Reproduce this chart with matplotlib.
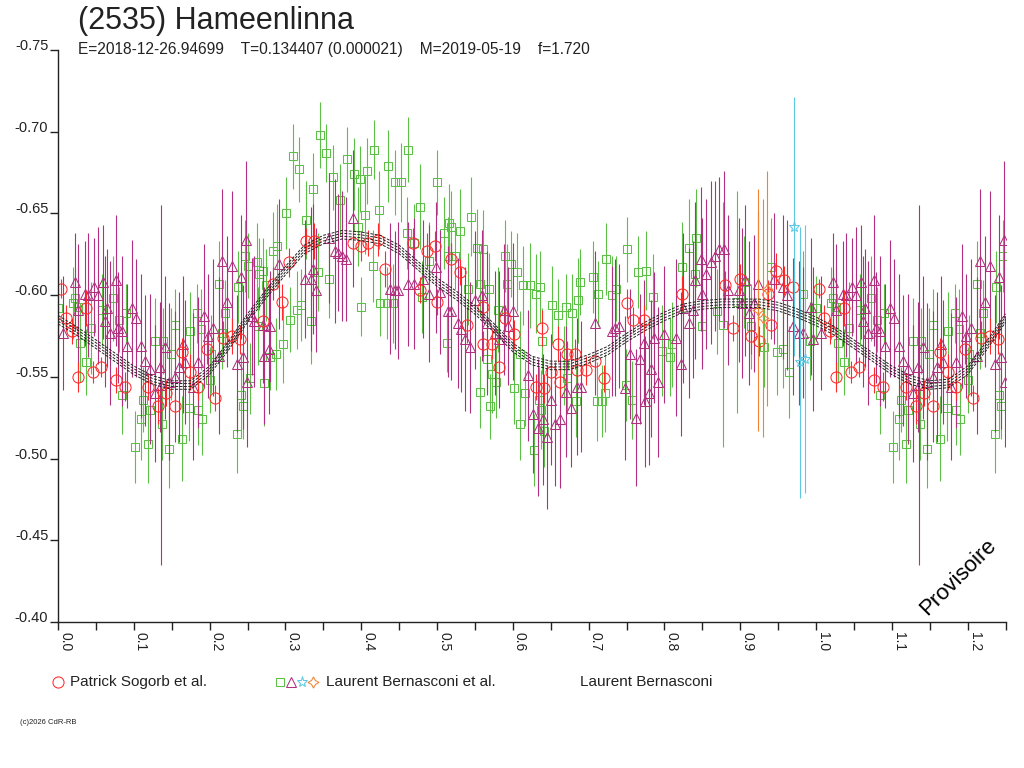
import numpy as np
import matplotlib
matplotlib.use("Agg")
import matplotlib.pyplot as plt
from matplotlib.ticker import MultipleLocator, FormatStrFormatter

plt.rcParams["font.family"] = ["Liberation Sans", "DejaVu Sans"]

TITLE = "(2535) Hameenlinna"
SUBTITLE = "E=2018-12-26.94699    T=0.134407 (0.000021)    M=2019-05-19    f=1.720"
LEGEND_1 = "Patrick Sogorb et al."
LEGEND_2 = "Laurent Bernasconi et al."
LEGEND_3 = "Laurent Bernasconi"
COPYRIGHT = "(c)2026 CdR-RB"
STAMP = "Provisoire"

PHASE_MAX = 1.25

# Patrick Sogorb et al. (red circles)
sog_phase = [0.004, 0.010, 0.019, 0.027, 0.037, 0.046, 0.057, 0.077, 0.088, 0.119,
             0.132, 0.143, 0.154, 0.164, 0.174, 0.185, 0.196, 0.207, 0.218, 0.229,
             0.240, 0.271, 0.283, 0.295, 0.305, 0.327, 0.338, 0.389, 0.400, 0.409,
             0.422, 0.432, 0.468, 0.477, 0.487, 0.497, 0.500, 0.519, 0.530, 0.540,
             0.561, 0.561, 0.573, 0.582, 0.590, 0.602, 0.630, 0.638, 0.641, 0.651,
             0.660, 0.662, 0.671, 0.682, 0.685, 0.697, 0.708, 0.720, 0.750, 0.759,
             0.773, 0.823, 0.880, 0.891, 0.900, 0.914, 0.925, 0.937, 0.940, 0.947,
             0.958, 0.969]
sog_mag = [-0.604, -0.586, -0.578, -0.550, -0.592, -0.553, -0.556, -0.548, -0.544, -0.544,
           -0.532, -0.540, -0.532, -0.565, -0.553, -0.544, -0.567, -0.537, -0.574, -0.575,
           -0.573, -0.584, -0.607, -0.596, -0.620, -0.633, -0.633, -0.632, -0.630, -0.632,
           -0.634, -0.616, -0.632, -0.603, -0.627, -0.630, -0.596, -0.622, -0.614, -0.582,
           -0.593, -0.570, -0.570, -0.556, -0.586, -0.576, -0.544, -0.580, -0.543, -0.553,
           -0.570, -0.547, -0.564, -0.564, -0.554, -0.554, -0.560, -0.549, -0.595, -0.585,
           -0.585, -0.601, -0.606, -0.580, -0.610, -0.575, -0.572, -0.601, -0.582, -0.615,
           -0.609, -0.605]
sog_err = [0.006, 0.008, 0.008, 0.009, 0.011, 0.007, 0.006, 0.008, 0.009, 0.008,
           0.011, 0.008, 0.006, 0.009, 0.011, 0.008, 0.009, 0.008, 0.010, 0.011,
           0.009, 0.008, 0.010, 0.011, 0.009, 0.008, 0.011, 0.008, 0.009, 0.008,
           0.010, 0.011, 0.009, 0.008, 0.011, 0.009, 0.008, 0.010, 0.008, 0.011,
           0.009, 0.008, 0.009, 0.011, 0.008, 0.009, 0.008, 0.011, 0.009, 0.008,
           0.011, 0.009, 0.008, 0.009, 0.008, 0.009, 0.011, 0.008, 0.009, 0.008,
           0.009, 0.011, 0.009, 0.008, 0.009, 0.011, 0.009, 0.008, 0.009, 0.011,
           0.009, 0.008]

# Laurent Bernasconi et al. - green squares
grn_phase = [0.000, 0.020, 0.022, 0.027, 0.029, 0.037, 0.043, 0.058, 0.073, 0.080,
             0.084, 0.090, 0.102, 0.110, 0.112, 0.119, 0.121, 0.128, 0.137, 0.139,
             0.147, 0.149, 0.155, 0.164, 0.173, 0.174, 0.183, 0.185, 0.189, 0.190,
             0.201, 0.202, 0.212, 0.217, 0.220, 0.236, 0.237, 0.242, 0.244, 0.247,
             0.251, 0.253, 0.262, 0.264, 0.265, 0.271, 0.272, 0.274, 0.280, 0.283,
             0.287, 0.289, 0.297, 0.301, 0.306, 0.310, 0.315, 0.318, 0.321, 0.327,
             0.334, 0.337, 0.343, 0.346, 0.354, 0.357, 0.363, 0.372, 0.381, 0.390,
             0.396, 0.398, 0.400, 0.405, 0.407, 0.416, 0.417, 0.423, 0.425, 0.434,
             0.435, 0.442, 0.444, 0.452, 0.461, 0.462, 0.469, 0.477, 0.480, 0.489,
             0.500, 0.509, 0.513, 0.516, 0.519, 0.515, 0.524, 0.530, 0.545, 0.541,
             0.553, 0.557, 0.561, 0.568, 0.566, 0.557, 0.570, 0.572, 0.578, 0.581,
             0.590, 0.593, 0.598, 0.601, 0.605, 0.609, 0.610, 0.614, 0.616, 0.623,
             0.628, 0.630, 0.634, 0.636, 0.637, 0.639, 0.641, 0.652, 0.659, 0.667,
             0.670, 0.672, 0.678, 0.683, 0.686, 0.689, 0.706, 0.711, 0.713, 0.718,
             0.721, 0.723, 0.731, 0.736, 0.749, 0.750, 0.757, 0.765, 0.776, 0.785,
             0.797, 0.808, 0.810, 0.823, 0.832, 0.841, 0.842, 0.850, 0.870, 0.877,
             0.896, 0.905, 0.914, 0.931, 0.940, 0.948, 0.957, 0.965, 0.983, 0.992]
grn_mag = [-0.592, -0.595, -0.598, -0.593, -0.571, -0.559, -0.580, -0.591, -0.598, -0.585,
           -0.539, -0.589, -0.507, -0.524, -0.536, -0.509, -0.530, -0.572, -0.521, -0.572,
           -0.506, -0.564, -0.582, -0.512, -0.531, -0.578, -0.589, -0.530, -0.579, -0.524,
           -0.548, -0.564, -0.607, -0.577, -0.589, -0.515, -0.605, -0.539, -0.532, -0.624,
           -0.618, -0.549, -0.620, -0.581, -0.613, -0.615, -0.546, -0.606, -0.562, -0.627,
           -0.564, -0.630, -0.570, -0.650, -0.585, -0.685, -0.591, -0.677, -0.594, -0.646,
           -0.584, -0.665, -0.614, -0.698, -0.687, -0.610, -0.672, -0.658, -0.683, -0.674,
           -0.642, -0.671, -0.593, -0.649, -0.676, -0.618, -0.689, -0.652, -0.595, -0.595,
           -0.679, -0.595, -0.669, -0.669, -0.638, -0.689, -0.632, -0.654, -0.599, -0.621,
           -0.669, -0.638, -0.571, -0.644, -0.642, -0.624, -0.624, -0.639, -0.648, -0.604,
           -0.629, -0.607, -0.628, -0.604, -0.561, -0.541, -0.532, -0.552, -0.547, -0.591,
           -0.624, -0.607, -0.619, -0.543, -0.614, -0.564, -0.521, -0.606, -0.540, -0.606,
           -0.505, -0.601, -0.536, -0.605, -0.530, -0.572, -0.517, -0.594, -0.588, -0.557,
           -0.593, -0.549, -0.589, -0.535, -0.597, -0.608, -0.611, -0.535, -0.601, -0.535,
           -0.540, -0.622, -0.600, -0.604, -0.545, -0.628, -0.536, -0.614, -0.615, -0.599,
           -0.566, -0.562, -0.570, -0.617, -0.629, -0.613, -0.635, -0.581, -0.590, -0.582,
           -0.596, -0.608, -0.581, -0.568, -0.617, -0.565, -0.567, -0.553, -0.601, -0.572]
grn_err = [0.020, 0.022, 0.018, 0.025, 0.024, 0.020, 0.028, 0.022, 0.026, 0.020,
           0.024, 0.018, 0.022, 0.025, 0.020, 0.024, 0.018, 0.026, 0.022, 0.020,
           0.024, 0.028, 0.022, 0.026, 0.020, 0.024, 0.018, 0.022, 0.025, 0.022,
           0.020, 0.024, 0.026, 0.022, 0.020, 0.024, 0.022, 0.026, 0.020, 0.022,
           0.020, 0.022, 0.024, 0.024, 0.022, 0.020, 0.026, 0.022, 0.020, 0.024,
           0.022, 0.026, 0.024, 0.022, 0.020, 0.020, 0.024, 0.020, 0.022, 0.024,
           0.026, 0.022, 0.024, 0.020, 0.018, 0.024, 0.020, 0.022, 0.020, 0.022,
           0.024, 0.020, 0.018, 0.024, 0.020, 0.022, 0.018, 0.024, 0.020, 0.022,
           0.022, 0.024, 0.020, 0.024, 0.022, 0.020, 0.024, 0.026, 0.022, 0.024,
           0.020, 0.022, 0.018, 0.024, 0.022, 0.024, 0.020, 0.026, 0.024, 0.022,
           0.024, 0.020, 0.024, 0.022, 0.020, 0.022, 0.020, 0.024, 0.022, 0.026,
           0.022, 0.024, 0.020, 0.022, 0.024, 0.026, 0.022, 0.024, 0.020, 0.026,
           0.022, 0.024, 0.020, 0.022, 0.024, 0.020, 0.022, 0.024, 0.022, 0.024,
           0.020, 0.022, 0.024, 0.022, 0.026, 0.020, 0.022, 0.024, 0.020, 0.022,
           0.024, 0.022, 0.024, 0.020, 0.022, 0.020, 0.024, 0.022, 0.024, 0.026,
           0.028, 0.024, 0.026, 0.028, 0.030, 0.026, 0.030, 0.024, 0.026, 0.075,
           0.068, 0.028, 0.026, 0.024, 0.030, 0.026, 0.024, 0.028, 0.026, 0.024]

# Laurent Bernasconi et al. - purple triangles
pur_phase = [0.007, 0.022, 0.027, 0.035, 0.040, 0.047, 0.053, 0.060, 0.062, 0.064,
             0.069, 0.077, 0.079, 0.084, 0.091, 0.097, 0.103, 0.110, 0.115, 0.121,
             0.128, 0.134, 0.136, 0.141, 0.147, 0.154, 0.160, 0.165, 0.167, 0.178,
             0.185, 0.192, 0.198, 0.204, 0.212, 0.216, 0.223, 0.229, 0.236, 0.242,
             0.244, 0.248, 0.249, 0.256, 0.259, 0.271, 0.272, 0.279, 0.280, 0.292,
             0.326, 0.334, 0.337, 0.341, 0.358, 0.365, 0.370, 0.375, 0.380, 0.389,
             0.438, 0.445, 0.449, 0.462, 0.469, 0.481, 0.490, 0.499, 0.504, 0.515,
             0.519, 0.528, 0.532, 0.537, 0.543, 0.550, 0.560, 0.566, 0.577, 0.582,
             0.589, 0.594, 0.600, 0.620, 0.626, 0.633, 0.640, 0.645, 0.650, 0.656,
             0.662, 0.670, 0.677, 0.685, 0.690, 0.708, 0.731, 0.735, 0.740, 0.748,
             0.755, 0.763, 0.768, 0.773, 0.775, 0.780, 0.782, 0.786, 0.792, 0.799,
             0.815, 0.822, 0.825, 0.833, 0.838, 0.841, 0.848, 0.849, 0.855, 0.862,
             0.867, 0.872, 0.878, 0.884, 0.899, 0.902, 0.906, 0.912, 0.918, 0.924,
             0.945, 0.957, 0.962, 0.970, 0.977, 0.983, 0.994, 0.996]
pur_mag = [-0.577, -0.608, -0.591, -0.601, -0.600, -0.605, -0.600, -0.608, -0.584, -0.592,
           -0.577, -0.609, -0.580, -0.578, -0.569, -0.592, -0.586, -0.569, -0.560, -0.555,
           -0.540, -0.556, -0.545, -0.568, -0.547, -0.550, -0.556, -0.570, -0.559, -0.544,
           -0.559, -0.587, -0.575, -0.580, -0.563, -0.621, -0.596, -0.618, -0.558, -0.611,
           -0.562, -0.634, -0.547, -0.587, -0.584, -0.582, -0.563, -0.567, -0.581, -0.619,
           -0.610, -0.610, -0.616, -0.603, -0.635, -0.627, -0.626, -0.624, -0.622, -0.647,
           -0.604, -0.603, -0.603, -0.607, -0.607, -0.610, -0.601, -0.617, -0.602, -0.590,
           -0.590, -0.583, -0.579, -0.573, -0.568, -0.597, -0.600, -0.583, -0.577, -0.573,
           -0.591, -0.581, -0.590, -0.551, -0.527, -0.519, -0.524, -0.513, -0.536, -0.521,
           -0.524, -0.541, -0.531, -0.544, -0.544, -0.583, -0.578, -0.580, -0.581, -0.543,
           -0.564, -0.525, -0.561, -0.571, -0.535, -0.540, -0.555, -0.574, -0.547, -0.576,
           -0.574, -0.558, -0.592, -0.583, -0.591, -0.609, -0.622, -0.601, -0.613, -0.620,
           -0.624, -0.628, -0.628, -0.603, -0.603, -0.595, -0.609, -0.589, -0.595, -0.607,
           -0.610, -0.605, -0.600, -0.581, -0.577, -0.577, -0.593, -0.573]
pur_err = [0.035, 0.030, 0.040, 0.032, 0.038, 0.030, 0.042, 0.035, 0.040, 0.036,
           0.044, 0.040, 0.034, 0.046, 0.038, 0.042, 0.036, 0.044, 0.040, 0.046,
           0.042, 0.040, 0.110, 0.044, 0.048, 0.040, 0.046, 0.042, 0.038, 0.045,
           0.040, 0.044, 0.038, 0.042, 0.048, 0.044, 0.040, 0.046, 0.042, 0.038,
           0.044, 0.048, 0.040, 0.036, 0.040, 0.036, 0.042, 0.040, 0.034, 0.040,
           0.036, 0.044, 0.040, 0.038, 0.040, 0.044, 0.036, 0.040, 0.038, 0.042,
           0.040, 0.036, 0.042, 0.038, 0.040, 0.036, 0.042, 0.040, 0.038, 0.040,
           0.042, 0.040, 0.038, 0.044, 0.040, 0.042, 0.040, 0.044, 0.038, 0.042,
           0.040, 0.036, 0.042, 0.040, 0.036, 0.042, 0.040, 0.044, 0.040, 0.038,
           0.042, 0.040, 0.036, 0.042, 0.040, 0.044, 0.040, 0.042, 0.038, 0.044,
           0.040, 0.042, 0.040, 0.038, 0.040, 0.044, 0.042, 0.040, 0.046, 0.042,
           0.048, 0.044, 0.046, 0.046, 0.042, 0.048, 0.044, 0.046, 0.046, 0.050,
           0.046, 0.044, 0.048, 0.046, 0.044, 0.046, 0.046, 0.044, 0.042, 0.044,
           0.040, 0.044, 0.046, 0.042, 0.044, 0.040, 0.042, 0.044]

# Laurent Bernasconi et al. - cyan stars and orange 4-point stars
cyn_phase = [0.971, 0.979, 0.985]
cyn_mag = [-0.642, -0.559, -0.561]
cyn_err = [0.079, 0.083, 0.082]

org_phase = [0.923, 0.930, 0.935]
org_mag = [-0.591, -0.586, -0.604]
org_err = [0.074, 0.073, 0.072]

# fitted lightcurve (read at 0.025 phase steps)
fit_phase = [0.000, 0.025, 0.050, 0.075, 0.100, 0.125, 0.150, 0.175, 0.200, 0.225,
             0.250, 0.275, 0.300, 0.325, 0.350, 0.375, 0.400, 0.425, 0.450, 0.475,
             0.500, 0.525, 0.550, 0.575, 0.600, 0.625, 0.650, 0.675, 0.700, 0.725,
             0.750, 0.775, 0.800, 0.825, 0.850, 0.875, 0.900, 0.925, 0.950, 0.975,
             1.000, 1.025, 1.050, 1.075, 1.100, 1.125, 1.150, 1.175, 1.200, 1.225,
             1.250]
fit_mag = [-0.585, -0.578, -0.570, -0.562, -0.554, -0.548, -0.545, -0.545, -0.554, -0.569,
           -0.586, -0.601, -0.615, -0.628, -0.634, -0.637, -0.636, -0.634, -0.628, -0.618,
           -0.608, -0.600, -0.591, -0.580, -0.568, -0.560, -0.557, -0.557, -0.561, -0.566,
           -0.574, -0.581, -0.587, -0.592, -0.594, -0.595, -0.595, -0.595, -0.593, -0.589,
           -0.584, -0.578, -0.570, -0.562, -0.554, -0.548, -0.545, -0.546, -0.554, -0.569,
           -0.586]
fit_band = [-0.0026, -0.0009, 0.0009, 0.0026]

RED = "#ff2a2a"
GREEN = "#5cbf46"
PURPLE = "#b0307f"
CYAN = "#5cc8e2"
ORANGE = "#f08232"
INK = "#222222"


def wrap(phase, mag, err):
    """repeat the start of the cycle after phase 1.0, as the phased plot does"""
    p = np.asarray(phase)
    m = np.asarray(mag)
    e = np.asarray(err)
    extra = p < PHASE_MAX - 1.0
    return (np.concatenate([p, p[extra] + 1.0]),
            np.concatenate([m, m[extra]]),
            np.concatenate([e, e[extra]]))


def draw_series(ax, phase, mag, err, marker, color, ms):
    p, m, e = wrap(phase, mag, err)
    ax.errorbar(p, m, yerr=e, fmt="none", ecolor=color, elinewidth=0.8, capsize=0)
    ax.plot(p, m, ls="none", marker=marker, ms=ms, mfc="none", mec=color, mew=0.75)


fig = plt.figure(figsize=(10.24, 7.68), dpi=100)
ax = fig.add_axes([58 / 1024, 1 - 622 / 768, 947.5 / 1024, 572 / 768])

draw_series(ax, grn_phase, grn_mag, grn_err, "s", GREEN, 6.3)
draw_series(ax, pur_phase, pur_mag, pur_err, "^", PURPLE, 7.0)
draw_series(ax, sog_phase, sog_mag, sog_err, "o", RED, 8.0)
draw_series(ax, org_phase, org_mag, org_err, (4, 1, 0), ORANGE, 8.0)
draw_series(ax, cyn_phase, cyn_mag, cyn_err, "*", CYAN, 8.0)

for off in fit_band:
    ax.plot(fit_phase, np.asarray(fit_mag) + off, color=INK, lw=0.7,
            ls=(0, (3, 1.5)))

ax.set_xlim(0, PHASE_MAX)
ax.set_ylim(-0.40, -0.75)
for side in ("top", "right"):
    ax.spines[side].set_visible(False)
for side in ("left", "bottom"):
    ax.spines[side].set_color(INK)
    ax.spines[side].set_linewidth(1.0)

ax.xaxis.set_major_locator(MultipleLocator(0.1))
ax.xaxis.set_minor_locator(MultipleLocator(0.05))
ax.xaxis.set_major_formatter(FormatStrFormatter("%.1f"))
ax.yaxis.set_major_locator(MultipleLocator(0.05))
ax.yaxis.set_major_formatter(FormatStrFormatter("%.2f"))
ax.tick_params(axis="x", which="both", direction="out", length=6, width=1,
               color=INK, pad=1.5, labelsize=10, labelcolor=INK)
ax.tick_params(axis="y", direction="out", length=6, width=1, color=INK,
               pad=1, labelsize=10.5, labelcolor=INK)
for lab in ax.get_xticklabels():
    lab.set_rotation(270)
    lab.set_ha("left")
    lab.set_va("top")
for lab in ax.get_yticklabels():
    lab.set_va("baseline")

# texts and legend, placed in pixel coordinates
lax = fig.add_axes([0, 0, 1, 1])
lax.set_xlim(0, 1024)
lax.set_ylim(768, 0)
lax.axis("off")

lax.text(78, 21, TITLE, fontsize=22, color=INK, va="center", ha="left")
lax.text(78, 54, SUBTITLE, fontsize=11.2, color=INK, va="baseline", ha="left")

leg_y = 682
lax.plot([58], [leg_y], "o", ms=8, mfc="none", mec=RED, mew=0.75)
lax.text(70, leg_y, LEGEND_1, fontsize=11, color=INK, va="center", ha="left")
lax.plot([280], [leg_y], "s", ms=6, mfc="none", mec=GREEN, mew=0.75)
lax.plot([290.5], [leg_y], "^", ms=6.5, mfc="none", mec=PURPLE, mew=0.75)
lax.plot([302], [leg_y], "*", ms=8, mfc="none", mec=CYAN, mew=0.75)
lax.plot([313], [leg_y], marker=(4, 1, 0), ms=8, mfc="none", mec=ORANGE, mew=0.75)
lax.text(326, leg_y, LEGEND_2, fontsize=11, color=INK, va="center", ha="left")
lax.text(580, leg_y, LEGEND_3, fontsize=11, color=INK, va="center", ha="left")

lax.text(20, 722, COPYRIGHT, fontsize=5.5, color=INK, va="center", ha="left")
lax.text(958, 577, STAMP, fontsize=16, color="black", rotation=45,
         va="center", ha="center")

fig.savefig("out.png", dpi=100)
